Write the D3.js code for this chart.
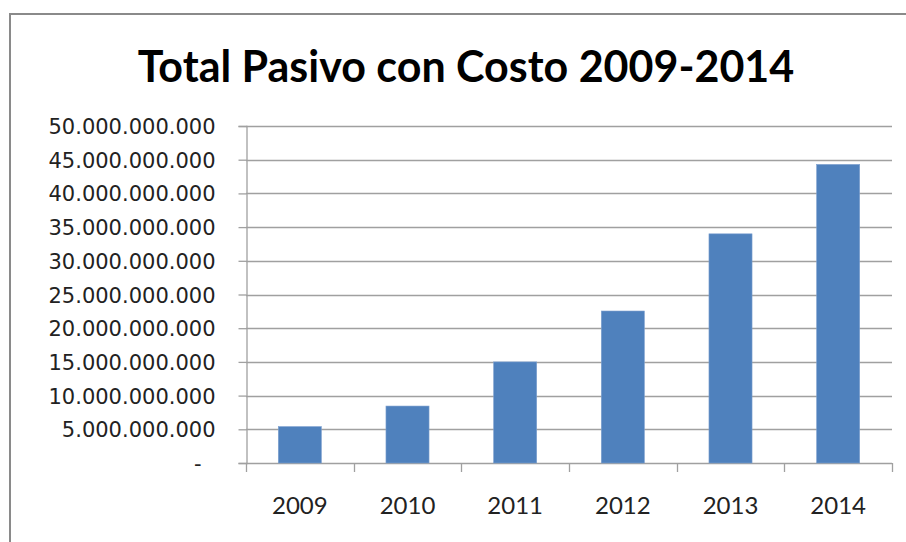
<!DOCTYPE html>
<html>
<head>
<meta charset="utf-8">
<script src="https://cdn.jsdelivr.net/npm/d3@7"></script>
<style>
  html, body { margin: 0; padding: 0; background: #fff; }
  svg { display: block; }
</style>
</head>
<body>
<svg id="chart" width="906" height="542"></svg>
<script>
// Total liabilities with cost, per year
const years = ["2009", "2010", "2011", "2012", "2013", "2014"];
const totals = [5400000000, 8450000000, 15000000000, 22550000000, 34000000000, 44300000000];
const yTicks = [0, 5e9, 10e9, 15e9, 20e9, 25e9, 30e9, 35e9, 40e9, 45e9, 50e9];
const title = "Total Pasivo con Costo 2009-2014";

const svg = d3.select("#chart");
const W = 906, H = 542;
const plot = { left: 246, right: 892, top: 126, bottom: 463 };

// chart-area frame (left and top edges)
svg.append("path")
  .attr("d", `M10,${H} L10,14 L${W},14`)
  .attr("fill", "none")
  .attr("stroke", "#8a8a8a")
  .attr("stroke-width", 2);

// title
svg.append("text")
  .attr("x", 466)
  .attr("y", 82)
  .attr("text-anchor", "middle")
  .attr("font-family", "Lato, 'Open Sans', sans-serif")
  .attr("font-weight", "bold")
  .attr("font-size", 43)
  .attr("fill", "#000")
  .text(title);

const x = d3.scaleBand()
  .domain(years)
  .range([plot.left, plot.right])
  .paddingInner(0.6)
  .paddingOuter(0.3);

const y = d3.scaleLinear()
  .domain([0, 50e9])
  .range([plot.bottom, plot.top]);

// horizontal gridlines
svg.append("g")
  .selectAll("line")
  .data(yTicks)
  .join("line")
  .attr("x1", plot.left)
  .attr("x2", plot.right)
  .attr("y1", d => Math.round(y(d)) + 0.5)
  .attr("y2", d => Math.round(y(d)) + 0.5)
  .attr("stroke", "#a0a0a0")
  .attr("stroke-width", 1.3);

// bars
svg.append("g")
  .selectAll("rect")
  .data(years.map((yr, i) => ({ yr, v: totals[i] })))
  .join("rect")
  .attr("x", d => x(d.yr))
  .attr("width", x.bandwidth())
  .attr("y", d => y(d.v))
  .attr("height", d => y(0) - y(d.v))
  .attr("fill", "#4f81bd")
  .attr("stroke", "#7da0cf")
  .attr("stroke-width", 0.6);

// value axis
const fmt = d => d === 0 ? "-" : d3.format(",")(d).replace(/,/g, ".");
const yAxis = svg.append("g")
  .attr("transform", `translate(${plot.left + 0.5},0)`)
  .call(d3.axisLeft(y).tickValues(yTicks).tickFormat(fmt).tickSize(8).tickPadding(23));
yAxis.select(".domain").attr("stroke", "#a0a0a0").attr("stroke-width", 1.3);
yAxis.selectAll(".tick line").attr("stroke", "#a0a0a0").attr("stroke-width", 1.3);
yAxis.selectAll(".tick text")
  .attr("font-family", "'DejaVu Sans', sans-serif")
  .attr("font-size", 21)
  .attr("fill", "#222")
  .attr("dy", "0.36em")
  .attr("dx", d => d === 0 ? -14 : 0);

// category axis, ticks at band edges
const edges = years.map(yr => x(yr) - x.step() * x.paddingInner() / 2).concat([plot.right]);
edges[0] = plot.left;
svg.append("g")
  .selectAll("line")
  .data(edges)
  .join("line")
  .attr("x1", d => Math.round(d) + 0.5)
  .attr("x2", d => Math.round(d) + 0.5)
  .attr("y1", plot.bottom)
  .attr("y2", plot.bottom + 9)
  .attr("stroke", "#a0a0a0")
  .attr("stroke-width", 1.3);

svg.append("g")
  .selectAll("text")
  .data(years)
  .join("text")
  .attr("x", d => x(d) + x.bandwidth() / 2)
  .attr("y", 514)
  .attr("text-anchor", "middle")
  .attr("font-family", "Lato, 'Open Sans', sans-serif")
  .attr("font-size", 24)
  .attr("fill", "#222")
  .text(d => d);
</script>
</body>
</html>
